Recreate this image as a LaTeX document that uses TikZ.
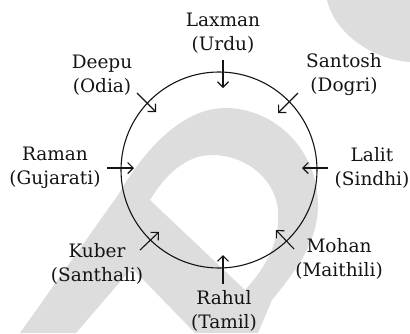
\documentclass[tikz,border=0pt]{standalone}
\usepackage{fontspec}
\setmainfont{DejaVu Serif}
\usetikzlibrary{arrows.meta}
\definecolor{wmgray}{RGB}{221,221,221}
\definecolor{ink}{RGB}{20,20,20}
\tikzset{
  lbl/.style={align=center, text=ink, inner sep=0pt,
    font=\fontsize{18.5}{24}\selectfont},
  pointer/.style={draw=ink, line width=1.1pt,
    -{Straight Barb[length=5.5pt,width=11pt,line width=1.1pt]}},
}
\begin{document}
\begin{tikzpicture}[x=1pt,y=-1pt]
\useasboundingbox (0,0) rectangle (410,333);

% faint background mark
\fill[wmgray, even odd rule]
  (20,333) -- (118,195)
  .. controls (150,140) and (188,108) .. (225,108)
  .. controls (275,108) and (318,150) .. (318,205)
  .. controls (318,245) and (292,275) .. (272,300)
  -- (258,333) -- (195,333) -- (132,268) -- (76,333) -- cycle
  (150,200) -- (245,290)
  .. controls (268,265) and (280,240) .. (278,210)
  .. controls (275,178) and (245,155) .. (212,155)
  .. controls (186,155) and (165,175) .. (150,200) -- cycle;
\fill[wmgray] (327,0) .. controls (335,35) and (375,60) .. (410,62) -- (410,0) -- cycle;

% the ring
\node[circle, draw=ink, line width=1.1pt, minimum size=196pt, inner sep=0pt] (ring) at (219,170) {};

% names with languages
\node[lbl] (laxman) at (223,33)  {Laxman\\(Urdu)};
\node[lbl] (deepu)  at (102,75)  {Deepu\\(Odia)};
\node[lbl] (santosh) at (344,75) {Santosh\\(Dogri)};
\node[lbl] (raman)  at (55,168)  {Raman\\(Gujarati)};
\node[lbl] (lalit)  at (372,168) {Lalit\\(Sindhi)};
\node[lbl] (kuber)  at (97,264)  {Kuber\\(Santhali)};
\node[lbl] (mohan)  at (339,259) {Mohan\\(Maithili)};
\node[lbl] (rahul)  at (224,311) {Rahul\\(Tamil)};

% arrow ends
\coordinate (laxmanA) at (223,60);  \coordinate (laxmanB) at (223,88);
\coordinate (deepuA)  at (137,93);  \coordinate (deepuB)  at (156,112);
\coordinate (santoshA) at (298,93); \coordinate (santoshB) at (278,113);
\coordinate (ramanA)  at (107,168); \coordinate (ramanB)  at (134,168);
\coordinate (lalitA)  at (328,168); \coordinate (lalitB)  at (302,168);
\coordinate (kuberA)  at (140,250); \coordinate (kuberB)  at (159,232);
\coordinate (mohanA)  at (294,249); \coordinate (mohanB)  at (276,230);
\coordinate (rahulA)  at (223,284); \coordinate (rahulB)  at (223,255);

\foreach \p in {laxman,deepu,santosh,raman,lalit,kuber,mohan,rahul}
  \draw[pointer] (\p A) -- (\p B);
\end{tikzpicture}
\end{document}
